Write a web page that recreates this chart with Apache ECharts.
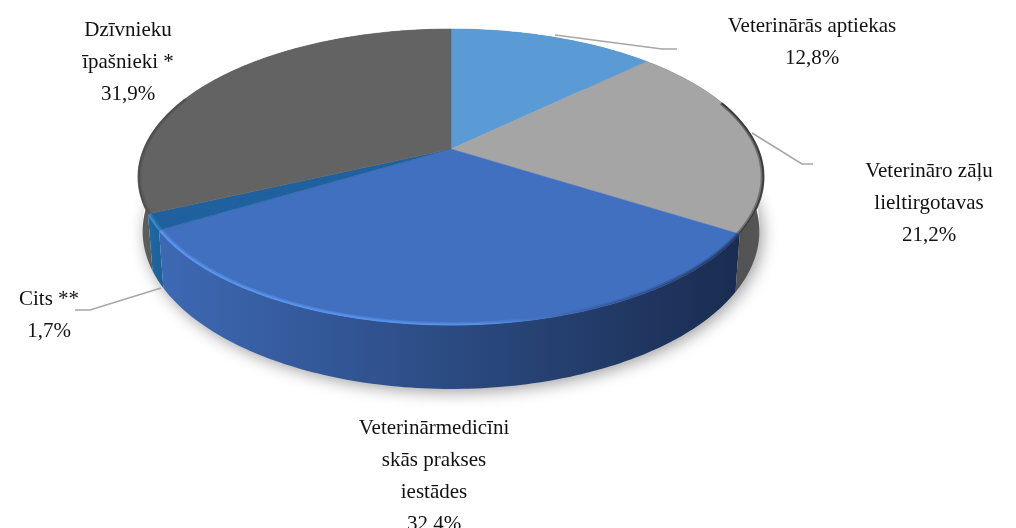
<!DOCTYPE html>
<html>
<head>
<meta charset="utf-8">
<style>html,body{margin:0;padding:0;background:#fff}#chart{width:1016px;height:528px}</style>
<script src="https://cdn.jsdelivr.net/npm/echarts@6/dist/echarts.min.js"></script>
</head>
<body>
<div id="chart"></div>
<script>
var categories = ['Veterinārās aptiekas', 'Veterināro zāļu\nlieltirgotavas', 'Veterinārmedicīni\nskās prakses\niestādes', 'Cits **', 'Dzīvnieku\nīpašnieki *'];
var values = [12.8, 21.2, 32.4, 1.7, 31.9];

// krāsas: virsma, sāni
var topColors = ['#5b9bd5', '#a5a5a5', '#4270c0', '#1f619f', '#636363'];
var sideColors = [['#3b6a96', '#3b6a96'], ['#4a4a4a', '#555555'], ['#3d69b4', '#1a2c50'], ['#1c6aa8', '#1c5f96'], ['#5c5c5c', '#5c5c5c']];
var rimColors = ['rgba(0,0,0,0)', 'rgba(40,40,40,0.75)', null, 'rgba(70,150,220,0.6)', 'rgba(60,60,60,0.4)'];

// perspektīvas parametri
var cx = 451, cy = 149, a = 307.4, b = 142.7, k = 0.189;
var wallX = 0.985, wallY = 1.066, wallD = 52.4;
var total = values.reduce(function (s, v) { return s + v; }, 0);

function proj(deg, r) {
  var t = deg * Math.PI / 180;
  var u = Math.sin(t) * r, v = -Math.cos(t) * r;
  var w = 1 - k * v;
  return [a * u / w, b * v / w];
}
function topPt(deg, r) {
  var p = proj(deg, r === undefined ? 1 : r);
  return [cx + p[0], cy + p[1]];
}
function lowPt(deg) {
  var p = proj(deg, 1);
  return [cx + p[0] * wallX, cy + p[1] * wallY + wallD];
}
function sliceRange(i) {
  var before = 0;
  for (var j = 0; j < i; j++) before += values[j];
  return [before / total * 360, (before + values[i]) / total * 360];
}
function arc(from, to, fn, r) {
  var pts = [];
  var n = Math.max(2, Math.ceil(Math.abs(to - from)));
  for (var i = 0; i <= n; i++) pts.push(fn(from + (to - from) * i / n, r));
  return pts;
}

function renderShadow() {
  var pts = arc(0, 360, function (d) {
    var p = lowPt(d);
    return [p[0], p[1] - 6];
  });
  return {
    type: 'polygon',
    shape: { points: pts },
    style: { fill: '#fff', shadowColor: 'rgba(0,0,0,0.38)', shadowBlur: 16, shadowOffsetY: 9, shadowOffsetX: 3 }
  };
}

function renderWall(params, api) {
  var i = api.value(0), range = sliceRange(i);
  var pts = arc(range[0], range[1], topPt).concat(arc(range[1], range[0], lowPt));
  var xs = pts.map(function (p) { return p[0]; });
  var x0 = Math.min.apply(null, xs), x1 = Math.max.apply(null, xs);
  return {
    type: 'polygon',
    shape: { points: pts },
    style: {
      fill: new echarts.graphic.LinearGradient(x0, 0, x1, 0, [
        { offset: 0, color: sideColors[i][0] },
        { offset: 1, color: sideColors[i][1] }
      ], true)
    }
  };
}

function renderTop(params, api) {
  var i = api.value(0), range = sliceRange(i);
  var pts = [topPt(0, 0)].concat(arc(range[0], range[1], topPt));
  var children = [{
    type: 'polygon',
    shape: { points: pts },
    style: { fill: topColors[i], stroke: topColors[i], lineWidth: 0.5 }
  }];
  // malas slīpums
  var from = Math.max(range[0], 70), to = Math.min(range[1], 292);
  if (to > from) {
    var rim = rimColors[i];
    var stroke = rim;
    if (i === 2) {
      stroke = new echarts.graphic.LinearGradient(160, 0, 740, 0, [
        { offset: 0, color: 'rgba(90,150,240,0.9)' },
        { offset: 0.55, color: 'rgba(90,150,240,0.65)' },
        { offset: 0.8, color: 'rgba(40,70,130,0.5)' },
        { offset: 1, color: 'rgba(30,50,90,0.8)' }
      ], true);
    }
    children.push({
      type: 'polyline',
      shape: { points: arc(from, to, topPt, 0.994) },
      style: { fill: 'none', stroke: stroke, lineWidth: 3, opacity: 0.55 }
    });
    children.push({
      type: 'polyline',
      shape: { points: arc(from, to, topPt, 0.998) },
      style: { fill: 'none', stroke: stroke, lineWidth: 2 }
    });
  }
  return { type: 'group', children: children };
}

function labelText(i) {
  return categories[i] + '\n' + values[i].toFixed(1).replace('.', ',') + '%';
}
var textStyle = { fontFamily: '"Liberation Serif", serif', fontSize: 21, lineHeight: 32, fill: '#111', textAlign: 'center', textVerticalAlign: 'top' };
function label(i, x, y) {
  return { type: 'text', x: x, y: y, z: 10, style: Object.assign({ text: labelText(i) }, textStyle) };
}
function leader(points) {
  return { type: 'polyline', z: 9, shape: { points: points }, style: { fill: 'none', stroke: '#a6a6a6', lineWidth: 1.5 } };
}

var chart = echarts.init(document.getElementById('chart'), null, { renderer: 'canvas' });
var rows = values.map(function (v, i) { return [i, v]; });
chart.setOption({
  animation: false,
  backgroundColor: '#fff',
  series: [
    { type: 'custom', coordinateSystem: 'none', z: 1, silent: true, data: [[0]], renderItem: renderShadow },
    { type: 'custom', coordinateSystem: 'none', z: 2, silent: true, data: rows, renderItem: renderWall },
    { type: 'custom', coordinateSystem: 'none', z: 3, silent: true, data: rows, renderItem: renderTop }
  ],
  graphic: [
    label(0, 812, 10),
    label(1, 929, 155),
    label(2, 434, 412),
    label(3, 49, 283),
    label(4, 128, 14),
    leader([[555, 35], [662, 49], [677, 49]]),
    leader([[752, 133], [802, 164], [813, 164]]),
    leader([[161, 288], [90, 310], [75, 310]])
  ]
});
</script>
</body>
</html>
